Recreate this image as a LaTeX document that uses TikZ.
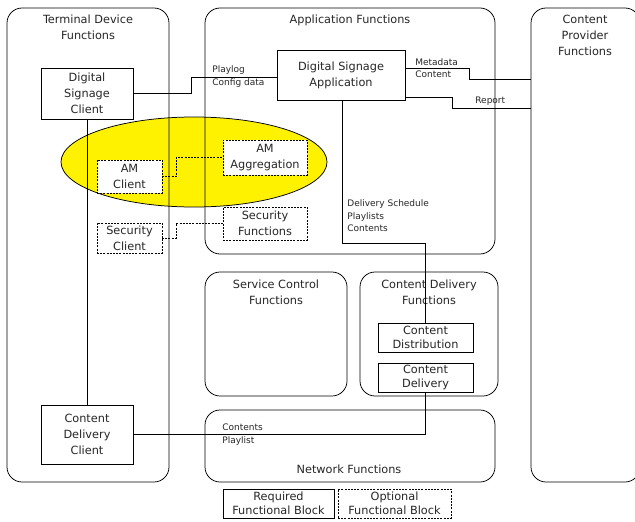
\documentclass[tikz,border=0pt]{standalone}
\usepackage{fontspec}
\setmainfont{DejaVu Sans}
\usetikzlibrary{shapes.geometric}
\newcommand{\mainsize}{\fontsize{11.3}{16}\selectfont}
\newcommand{\smallsize}{\fontsize{9}{12.5}\selectfont}
\begin{document}
\begin{tikzpicture}[x=1pt,y=-1pt,line width=0.75pt,
  container/.style={draw, rounded corners=15pt, inner sep=0pt, outer sep=0pt},
  ctitle/.style={anchor=north, align=center, inner sep=0pt, font=\mainsize, text=black!85},
  fblock/.style={draw, fill=white, align=center, inner sep=0pt, outer sep=0pt, font=\mainsize, text=black!85},
  optblock/.style={fblock, dash pattern=on 2pt off 1.2pt},
  lbl/.style={anchor=west, align=left, inner sep=0pt, font=\smallsize, text=black!85},
  optline/.style={dash pattern=on 2pt off 1.2pt}]
\useasboundingbox (0,0) rectangle (635,522);
\clip (0,0) rectangle (635,522);

% AM zone
\node[ellipse, draw, fill=yellow, minimum width=266pt, minimum height=90pt, inner sep=0pt] (amzone) at (194,162) {};

% containers
\node[container, minimum width=162pt, minimum height=474pt] (tdf) at (88,245) {};
\node[container, minimum width=290pt, minimum height=246pt] (af) at (350,131) {};
\node[container, minimum width=109pt, minimum height=474pt] (cpf) at (585.5,245) {};
\node[container, minimum width=142pt, minimum height=124pt] (scf) at (276,334) {};
\node[container, minimum width=138pt, minimum height=124pt] (cdf) at (429,334) {};
\node[container, minimum width=290pt, minimum height=72pt] (nf) at (350,446) {};

% container titles
\node[ctitle] (tdft) at (88,15) {Terminal Device\\Functions};
\node[ctitle] (aft) at (350,15) {Application Functions};
\node[ctitle] (cpft) at (585,15) {Content\\Provider\\Functions};
\node[ctitle] (scft) at (276,280) {Service Control\\Functions};
\node[ctitle] (cdft) at (429,280) {Content Delivery\\Functions};
\node[font=\mainsize, text=black!85, inner sep=0pt] (nft) at (349,469) {Network Functions};

% functional blocks
\node[fblock, minimum width=92pt, minimum height=51pt] (dsc) at (87,93.5) {Digital\\Signage\\Client};
\node[fblock, minimum width=128pt, minimum height=50pt] (dsa) at (341,75) {Digital Signage\\Application};
\node[optblock, minimum width=65pt, minimum height=33pt] (amc) at (129.5,176.5) {AM\\Client};
\node[optblock, minimum width=84pt, minimum height=35pt] (amagg) at (265,157.5) {AM\\Aggregation};
\node[optblock, minimum width=65pt, minimum height=30pt] (secc) at (129.5,238) {Security\\Client};
\node[optblock, minimum width=84pt, minimum height=33pt] (secf) at (265,223.5) {Security\\Functions};
\node[fblock, minimum width=92pt, minimum height=59pt] (cdc) at (87,434.5) {Content\\Delivery\\Client};
\node[fblock, minimum width=95pt, minimum height=29pt, font=\fontsize{11.3}{14}\selectfont] (cdist) at (425.5,337.5) {Content\\Distribution};
\node[fblock, minimum width=95pt, minimum height=29pt, font=\fontsize{11.3}{14}\selectfont] (cdel) at (425.5,377.5) {Content\\Delivery};

% legend
\node[fblock, minimum width=111pt, minimum height=29pt, font=\fontsize{11.3}{14}\selectfont] (lreq) at (278.5,503.5) {Required\\Functional Block};
\node[optblock, minimum width=113pt, minimum height=29pt, font=\fontsize{11.3}{14}\selectfont] (lopt) at (394.5,503.5) {Optional\\Functional Block};

% connectors
\draw (dsc.east) -| (191,77) -- (dsa.west |- 0,77);
\draw (dsa.east |- 0,68) -| (469,79) -- (cpf.west |- 0,79);
\draw (dsa.east |- 0,97) -| (452,108) -- (cpf.west |- 0,108);
\draw (dsa.south -| 342,0) -- (342,243) -| (cdist.north);
\draw[optline] (amc.east) -| (176,157.5) -- (amagg.west);
\draw[optline] (secc.east) -| (176,223.5) -- (secf.west);
\draw (dsc.south) -- (cdc.north);
\draw (cdel.south) |- (cdc.east);

% connector labels
\node[lbl] (l1) at (212,76.5) {Playlog\\Config data};
\node[lbl] (l2) at (415,68) {Metadata\\Content};
\node[lbl] (l3) at (475,101) {Report};
\node[lbl] (l4) at (347,216) {Delivery Schedule\\Playlists\\Contents};
\node[lbl] (l5) at (222,434.5) {Contents\\Playlist};
\end{tikzpicture}
\end{document}
